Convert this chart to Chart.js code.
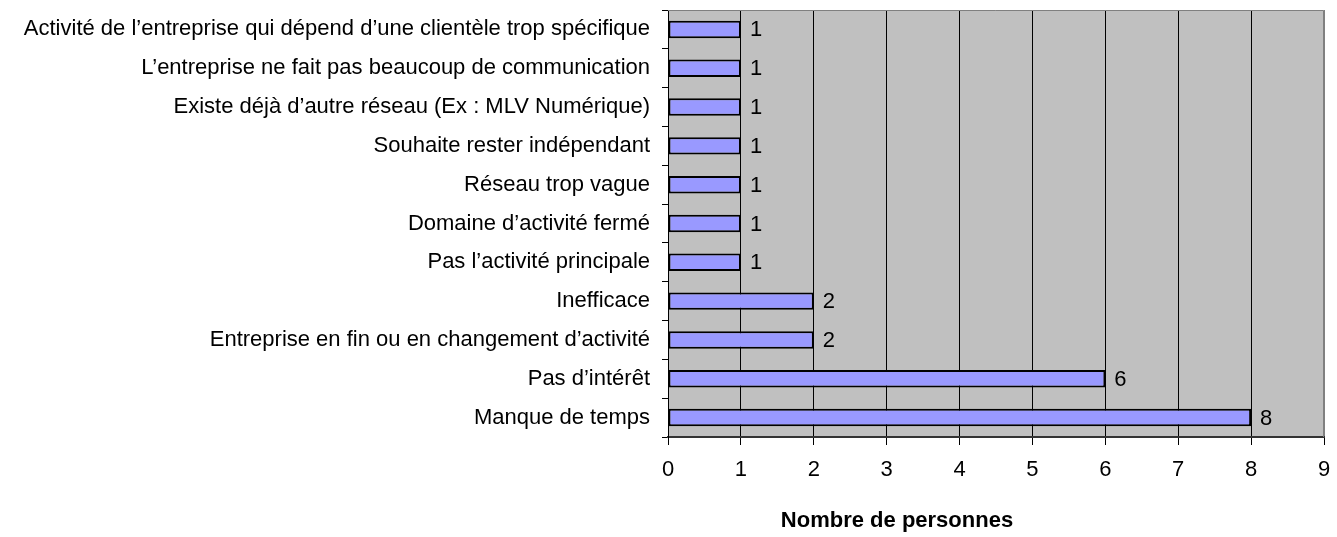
<!DOCTYPE html>
<html>
<head>
<meta charset="utf-8">
<script src="https://cdn.jsdelivr.net/npm/chart.js@4"></script>
<style>
  html, body { margin: 0; padding: 0; background: #fff; }
  #wrap { width: 1337px; height: 537px; }
</style>
</head>
<body>
<div id="wrap"><canvas id="myChart"></canvas></div>
<script>
// donnees
let categories = [
  "Activité de l’entreprise qui dépend d’une clientèle trop spécifique",
  "L’entreprise ne fait pas beaucoup de communication",
  "Existe déjà d’autre réseau (Ex : MLV Numérique)",
  "Souhaite rester indépendant",
  "Réseau trop vague",
  "Domaine d’activité fermé",
  "Pas l’activité principale",
  "Inefficace",
  "Entreprise en fin ou en changement d’activité",
  "Pas d’intérêt",
  "Manque de temps"
];
let personnes = [1, 1, 1, 1, 1, 1, 1, 2, 2, 6, 8];
let xTicks = [0, 1, 2, 3, 4, 5, 6, 7, 8, 9];
let titreX = 'Nombre de personnes';

const police = '"Liberation Sans", Arial, sans-serif';

// fond gris + bordure haut/droite + titre de l'axe
const fondPlugin = {
  id: 'fond',
  beforeDraw(chart) {
    const a = chart.chartArea, c = chart.ctx;
    c.save();
    c.fillStyle = '#C0C0C0';
    c.fillRect(a.left, a.top, a.right - a.left, a.bottom - a.top);
    c.restore();
  },
  afterDraw(chart) {
    const a = chart.chartArea, c = chart.ctx;
    c.save();
    c.strokeStyle = '#808080';
    c.lineWidth = 1;
    c.beginPath();
    c.moveTo(a.left, a.top + 0.5);
    c.lineTo(a.right - 0.5, a.top + 0.5);
    c.lineTo(a.right - 0.5, a.bottom);
    c.stroke();
    c.font = 'bold 22px ' + police;
    c.fillStyle = '#000';
    c.textAlign = 'center';
    c.textBaseline = 'middle';
    c.fillText(titreX, 897, 521);
    c.restore();
  }
};

// valeurs a droite des barres
const valeursPlugin = {
  id: 'valeurs',
  afterDatasetsDraw(chart) {
    const c = chart.ctx;
    const meta = chart.getDatasetMeta(0);
    c.save();
    c.font = '22px ' + police;
    c.fillStyle = '#000';
    c.textBaseline = 'middle';
    meta.data.forEach((bar, i) => {
      c.fillText(String(personnes[i]), bar.x + 9, bar.y + 1);
    });
    c.restore();
  }
};

Chart.defaults.font.family = police;
Chart.defaults.color = '#000';

new Chart(document.getElementById('myChart'), {
  type: 'bar',
  data: {
    labels: categories,
    datasets: [{
      data: personnes,
      backgroundColor: '#9999FF',
      borderColor: '#000',
      borderWidth: 2,
      borderSkipped: false,
      categoryPercentage: 0.45,
      barPercentage: 1
    }]
  },
  options: {
    indexAxis: 'y',
    responsive: true,
    maintainAspectRatio: false,
    animation: false,
    layout: { padding: { top: 10, right: 13, left: 0, bottom: 0 } },
    plugins: { legend: { display: false }, tooltip: { enabled: false } },
    scales: {
      x: {
        min: 0,
        max: 9,
        afterBuildTicks(scale) { scale.ticks = xTicks.map(v => ({ value: v })); },
        afterFit(scale) {
          scale.height = 100;
          scale.paddingLeft = 0;
          scale.paddingRight = 0;
        },
        grid: {
          color: ctx => ctx.index === 9 ? '#808080' : '#000',
          drawOnChartArea: true,
          drawTicks: true,
          tickLength: 8,
          tickColor: '#000'
        },
        border: { color: '#333', width: 2 },
        ticks: { font: { size: 22 }, padding: 12, color: '#000' }
      },
      y: {
        afterFit(scale) {
          scale.width = 668;
          scale.paddingTop = 0;
          scale.paddingBottom = 0;
        },
        grid: {
          offset: true,
          drawOnChartArea: false,
          drawTicks: true,
          tickLength: 6,
          tickColor: '#000'
        },
        border: { color: '#000', width: 1 },
        ticks: { font: { size: 22 }, padding: 12, color: '#000' }
      }
    }
  },
  plugins: [fondPlugin, valeursPlugin]
});
</script>
</body>
</html>
